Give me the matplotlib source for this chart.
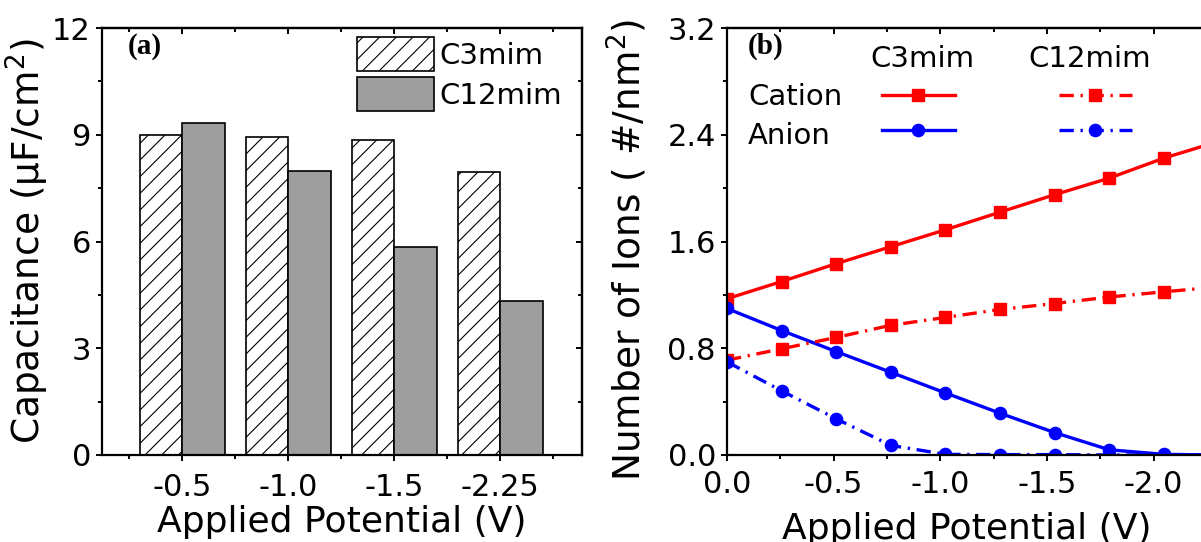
import matplotlib
matplotlib.use("Agg")
import matplotlib.pyplot as plt
import numpy as np

plt.rcParams['font.family'] = 'DejaVu Sans'
plt.rcParams['axes.unicode_minus'] = False
plt.rcParams['hatch.linewidth'] = 0.8

# panel (a): capacitance per applied potential
potentials = ['-0.5', '-1.0', '-1.5', '-2.25']
cap_c3 = [9.00, 8.95, 8.86, 7.94]
cap_c12 = [9.34, 7.97, 5.85, 4.32]

# panel (b): ion counts vs applied potential
volts = [0.0, -0.256, -0.512, -0.768, -1.024, -1.280, -1.536, -1.792, -2.048, -2.304]
cation_c3 = [1.171, 1.300, 1.434, 1.561, 1.688, 1.820, 1.951, 2.075, 2.225, 2.35]
anion_c3 = [1.098, 0.933, 0.775, 0.620, 0.465, 0.313, 0.168, 0.039, 0.005, 0.0]
cation_c12 = [0.711, 0.796, 0.881, 0.972, 1.031, 1.091, 1.135, 1.184, 1.223, 1.26]
anion_c12 = [0.698, 0.481, 0.271, 0.072, 0.005, 0.003, 0.003, 0.0, 0.0, 0.0]

W, H = 1201, 542
fig = plt.figure(figsize=(W / 100, H / 100), dpi=100)
ax1 = fig.add_axes([102 / W, (H - 455) / H, 480 / W, 427 / H])
ax2 = fig.add_axes([727 / W, (H - 455) / H, 480 / W, 427 / H])

TICK = 22
LAB = 26
MAJ, MIN = 4.5, 3.0

def style_axes(ax, xpad):
    for s in ax.spines.values():
        s.set_linewidth(1.6)
    ax.tick_params(which='both', direction='out', width=1.4, labelsize=TICK,
                   top=False, right=False)
    ax.tick_params(which='major', length=MAJ)
    ax.tick_params(which='minor', length=MIN)
    ax.tick_params(axis='x', which='major', pad=xpad)
    # mirrored ticks on top/right point inward
    sec = ax.secondary_xaxis('top')
    sec.tick_params(which='both', direction='in', width=1.4, labeltop=False)
    sec.tick_params(which='major', length=MAJ)
    sec.tick_params(which='minor', length=MIN)
    sec.set_xticks(ax.get_xticks())
    sec.set_xticks(ax.get_xticks(minor=True), minor=True)
    sec.set_xticklabels([])
    sec.spines['top'].set_linewidth(1.6)
    secy = ax.secondary_yaxis('right')
    secy.tick_params(which='both', direction='in', width=1.4, labelright=False)
    secy.tick_params(which='major', length=MAJ)
    secy.tick_params(which='minor', length=MIN)
    secy.set_yticks(ax.get_yticks())
    secy.set_yticks(ax.get_yticks(minor=True), minor=True)
    secy.set_yticklabels([])
    secy.spines['right'].set_linewidth(1.6)

# ---- (a) bars ----
x = np.arange(1, len(potentials) + 1)
bw = 0.4
ax1.bar(x - bw / 2, cap_c3, bw, color='white', edgecolor='black', hatch='//',
        linewidth=1.2, label='C3mim')
ax1.bar(x + bw / 2, cap_c12, bw, color='#9e9e9e', edgecolor='black',
        linewidth=1.2, label='C12mim')
ax1.set_xlim(0.245, 4.77)
ax1.set_ylim(0, 12)
ax1.set_xticks(x)
ax1.set_xticklabels(potentials)
ax1.set_xticks(np.arange(0.5, 5.0, 1.0), minor=True)
ax1.set_yticks([0, 3, 6, 9, 12])
ax1.set_yticks(np.arange(0, 12.1, 1.5), minor=True)
ax1.set_xlabel('Applied Potential (V)', fontsize=LAB, labelpad=2)
ax1.set_ylabel('Capacitance (μF/cm$^2$)', fontsize=LAB + 1)
ax1.yaxis.set_label_coords(-0.106, 0.5)
style_axes(ax1, xpad=8.5)
ax1.legend(loc='upper left', bbox_to_anchor=(0.531, 0.978), frameon=False,
           fontsize=21, handlelength=2.64, handleheight=1.4, labelspacing=0.22,
           handletextpad=0.2, borderpad=0, borderaxespad=0)
ax1.text(0.054, 0.988, '(a)', transform=ax1.transAxes, fontsize=21,
         fontweight='bold', family='Liberation Serif', va='top')

# ---- (b) ion numbers ----
dashdot = (0, (4.3, 2.0, 0.7, 2.0))
kw = dict(lw=2.4, ms=8.8)
l1, = ax2.plot(volts, cation_c3, '-', color='#ff0000', marker='s', **kw)
l2, = ax2.plot(volts, anion_c3, '-', color='#0000ff', marker='o', **kw)
l3, = ax2.plot(volts, cation_c12, linestyle=dashdot, color='#ff0000', marker='s', **kw)
l4, = ax2.plot(volts, anion_c12, linestyle=dashdot, color='#0000ff', marker='o', **kw)
ax2.set_xlim(0, -2.25)
ax2.set_ylim(0, 3.2)
ax2.set_xticks([0, -0.5, -1.0, -1.5, -2.0])
ax2.set_xticklabels(['0.0', '-0.5', '-1.0', '-1.5', '-2.0'])
ax2.set_xticks(np.arange(0, -2.3, -0.25), minor=True)
ax2.set_yticks([0, 0.8, 1.6, 2.4, 3.2])
ax2.set_yticklabels(['0.0', '0.8', '1.6', '2.4', '3.2'])
ax2.set_yticks(np.arange(0, 3.25, 0.4), minor=True)
ax2.set_xlabel('Applied Potential (V)', fontsize=LAB, labelpad=9)
ax2.set_ylabel('Number of Ions ( #/nm$^2$)', fontsize=LAB + 1)
ax2.yaxis.set_label_coords(-0.163, 0.48)
style_axes(ax2, xpad=6.5)

# two-column key: C3mim (solid) and C12mim (dash-dot)
ax2.legend([l1, l2, l3, l4], ['', '', '', ''], ncol=2, loc='center',
           bbox_to_anchor=(0.583, 0.797), frameon=False, fontsize=21,
           handlelength=2.5, handletextpad=0, columnspacing=3.56,
           labelspacing=0.24, borderpad=0, borderaxespad=0)
for label, yy in [('Cation', 0.838), ('Anion', 0.746)]:
    ax2.text(0.044, yy, label, transform=ax2.transAxes, fontsize=21,
             ha='left', va='center')
ax2.text(0.408, 0.928, 'C3mim', transform=ax2.transAxes, fontsize=21,
         ha='center', va='center')
ax2.text(0.756, 0.928, 'C12mim', transform=ax2.transAxes, fontsize=21,
         ha='center', va='center')
ax2.text(0.044, 0.988, '(b)', transform=ax2.transAxes, fontsize=21,
         fontweight='bold', family='Liberation Serif', va='top')

fig.savefig('out.png', dpi=100)
